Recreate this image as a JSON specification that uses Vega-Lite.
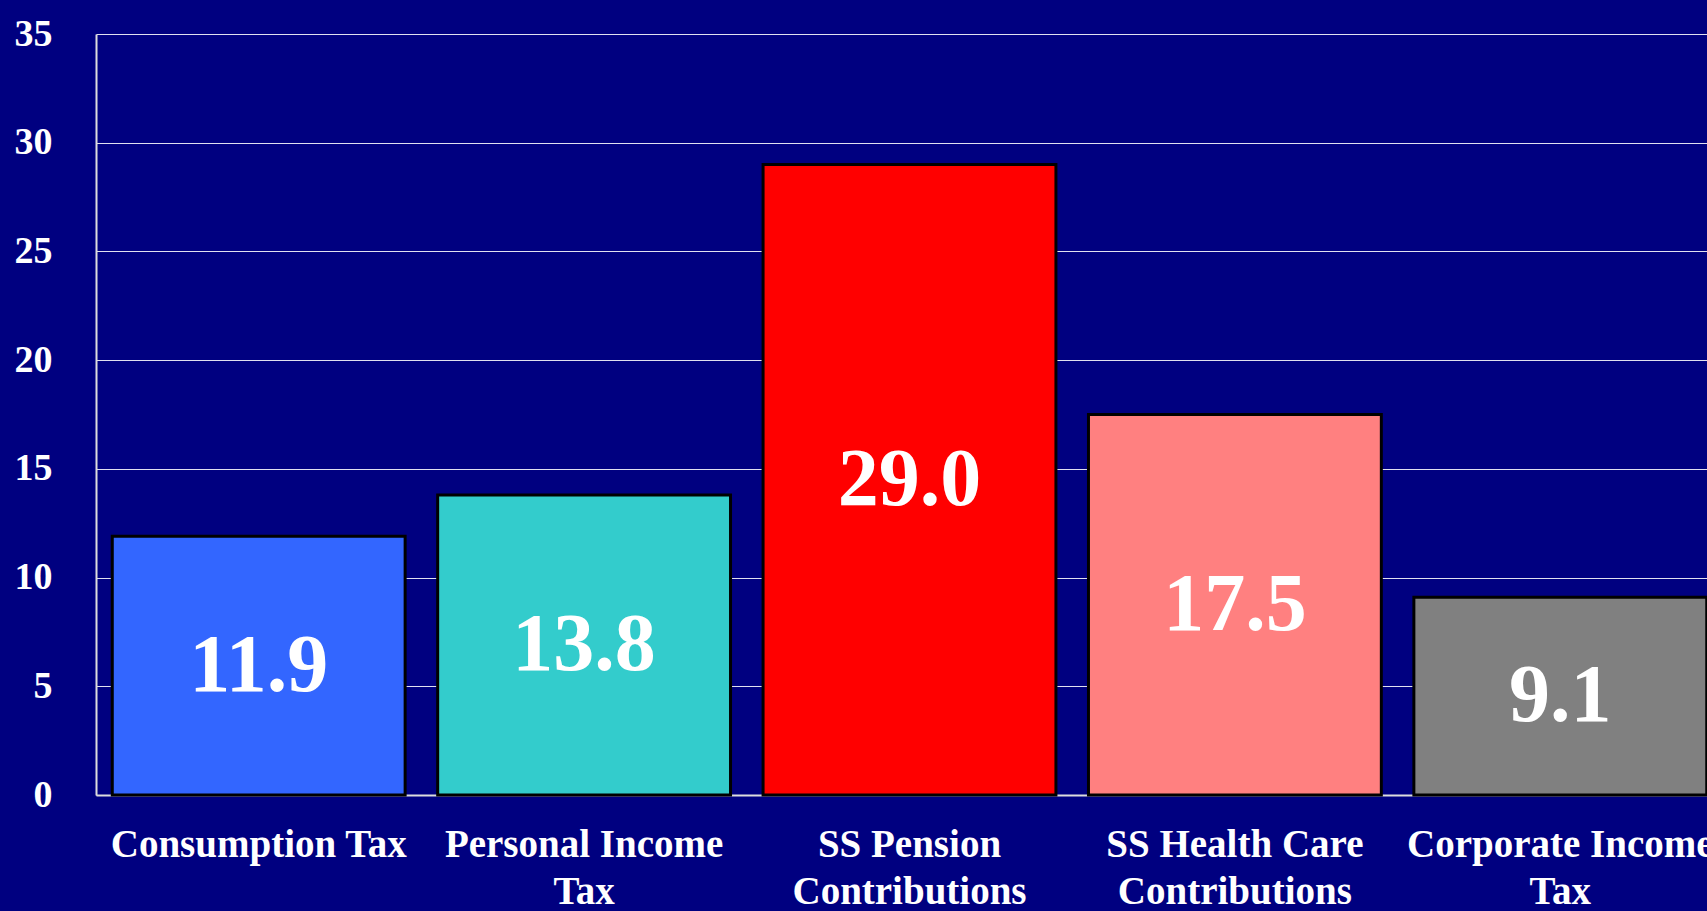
{
  "$schema": "https://vega.github.io/schema/vega-lite/v6.json",
  "autosize": {"type": "none"},
  "width": 1611,
  "height": 761,
  "padding": {"left": 96, "top": 34, "right": 0, "bottom": 116},
  "background": "#000080",
  "config": {"view": {"stroke": null, "fill": "#000080"}},
  "data": {
    "values": [
      {"category": "Consumption Tax", "value": 11.9, "color": "#3366FF"},
      {"category": "Personal Income Tax", "value": 13.8, "color": "#33CCCC"},
      {"category": "SS Pension Contributions", "value": 29.0, "color": "#FF0000"},
      {"category": "SS Health Care Contributions", "value": 17.5, "color": "#FF8080"},
      {"category": "Corporate Income Tax", "value": 9.1, "color": "#808080"}
    ]
  },
  "encoding": {
    "x": {
      "field": "category",
      "type": "nominal",
      "sort": null,
      "scale": {"range": [0, 1627], "paddingInner": 0.1, "paddingOuter": 0.05},
      "axis": {
        "title": null,
        "labelAngle": 0,
        "labelFont": "Liberation Serif",
        "labelFontWeight": "bold",
        "labelFontSize": 39,
        "labelColor": "white",
        "labelLimit": 0,
        "labelPadding": 40,
        "labelLineHeight": 47,
        "labelBaseline": "top",
        "labelExpr": "datum.value == 'Consumption Tax' ? 'Consumption Tax' : datum.value == 'Personal Income Tax' ? ['Personal Income', 'Tax'] : datum.value == 'SS Pension Contributions' ? ['SS Pension', 'Contributions'] : datum.value == 'SS Health Care Contributions' ? ['SS Health Care', 'Contributions'] : ['Corporate Income', 'Tax']",
        "bandPosition": 0,
        "ticks": true,
        "tickSize": -10,
        "tickColor": "#DDDDDD",
        "tickWidth": 1,
        "domainColor": "#DDDDDD",
        "domainWidth": 2,
        "grid": false
      }
    }
  },
  "layer": [
    {
      "mark": {"type": "bar", "stroke": "black", "strokeWidth": 3},
      "encoding": {
        "y": {
          "field": "value",
          "type": "quantitative",
          "scale": {"domain": [0, 35], "nice": false},
          "axis": {
            "title": null,
            "values": [0, 5, 10, 15, 20, 25, 30, 35],
            "labelFont": "Liberation Serif",
            "labelFontWeight": "bold",
            "labelFontSize": 38,
            "labelColor": "white",
            "labelPadding": 44,
            "ticks": false,
            "domainColor": "#DDDDDD",
            "domainWidth": 2,
            "grid": true,
            "gridColor": "#E0E0F0",
            "gridWidth": 1.2
          }
        },
        "color": {"field": "color", "type": "nominal", "scale": null}
      }
    },
    {
      "transform": [{"calculate": "datum.value / 2", "as": "mid"}],
      "mark": {
        "type": "text",
        "font": "Liberation Serif",
        "fontWeight": "bold",
        "fontSize": 82,
        "color": "white",
        "baseline": "middle",
        "align": "center"
      },
      "encoding": {
        "y": {"field": "mid", "type": "quantitative"},
        "text": {"field": "value", "type": "quantitative", "format": ".1f"}
      }
    }
  ]
}
